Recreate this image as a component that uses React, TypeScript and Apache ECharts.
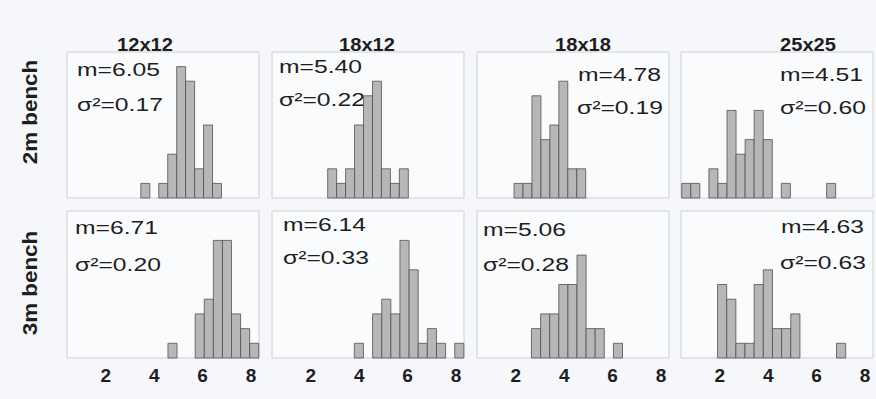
import React, { useEffect, useRef } from "react";
import * as echarts from "echarts";

// ---- data ----
const COLUMN_TITLES = ["12x12", "18x12", "18x18", "25x25"];
const ROW_TITLES = ["2m bench", "3m bench"];
const X_TICKS = [2, 4, 6, 8];

// left edge of the first bin and bin width, per row (2m, 3m) and column
const BIN_START_2M = [3.45, 2.7, 1.93, 0.43];
const BIN_START_3M = [4.57, 3.8, 2.65, 1.91];
const BIN_WIDTH_2M = [0.37, 0.37, 0.37, 0.374];
const BIN_WIDTH_3M = [0.375, 0.377, 0.376, 0.378];

const COUNTS_2M_12x12 = [1, 0, 1, 3, 9, 8, 2, 5, 1];
const COUNTS_2M_18x12 = [2, 1, 2, 5, 7, 8, 2, 1, 2];
const COUNTS_2M_18x18 = [1, 1, 7, 4, 5, 8, 2, 2];
const COUNTS_2M_25x25 = [1, 1, 0, 2, 1, 6, 3, 4, 6, 4, 0, 1, 0, 0, 0, 0, 1];
const COUNTS_3M_12x12 = [1, 0, 0, 3, 4, 8, 8, 3, 2, 1];
const COUNTS_3M_18x12 = [1, 0, 3, 4, 3, 8, 6, 1, 2, 1, 0, 1];
const COUNTS_3M_18x18 = [2, 3, 3, 5, 5, 7, 2, 2, 0, 1];
const COUNTS_3M_25x25 = [5, 4, 1, 1, 5, 6, 2, 2, 3, 0, 0, 0, 0, 1];

const MEANS_2M = ["6.05", "5.40", "4.78", "4.51"];
const MEANS_3M = ["6.71", "6.14", "5.06", "4.63"];
const VARS_2M = ["0.17", "0.22", "0.19", "0.60"];
const VARS_3M = ["0.20", "0.33", "0.28", "0.63"];

// ---- layout ----
const FONT = "Arial, 'Liberation Sans', Helvetica, sans-serif";
const COL_LEFT = [67, 272, 477, 681];
const COL_WIDTH = 192;
const ROW_TOP = [52, 211];
const ROW_HEIGHT = [146, 147];
const X_MIN = 0.4;
const X_MAX = 8.33;
const TITLE_X = [145, 367, 583, 808];
const STAT_POS = [
  [[77, 70, 77, 105], [279, 67, 279, 100], [578, 75, 577, 108], [780, 75, 780, 108]],
  [[75, 228, 75, 265], [283, 225, 283, 258], [483, 230, 483, 265], [781, 227, 780, 263]],
];

export default function App() {
  const ref = useRef<HTMLDivElement>(null);

  useEffect(() => {
    if (!ref.current) return;
    const chart = echarts.init(ref.current, undefined, { renderer: "svg" });

    const counts = [
      [COUNTS_2M_12x12, COUNTS_2M_18x12, COUNTS_2M_18x18, COUNTS_2M_25x25],
      [COUNTS_3M_12x12, COUNTS_3M_18x12, COUNTS_3M_18x18, COUNTS_3M_25x25],
    ];
    const starts = [BIN_START_2M, BIN_START_3M];
    const widths = [BIN_WIDTH_2M, BIN_WIDTH_3M];
    const means = [MEANS_2M, MEANS_3M];
    const vars = [VARS_2M, VARS_3M];

    const grids: any[] = [];
    const xAxes: any[] = [];
    const yAxes: any[] = [];
    const series: any[] = [];
    const graphics: any[] = [];

    for (let r = 0; r < 2; r++) {
      for (let c = 0; c < 4; c++) {
        const idx = r * 4 + c;
        grids.push({
          left: COL_LEFT[c],
          top: ROW_TOP[r],
          width: COL_WIDTH,
          height: ROW_HEIGHT[r],
          show: true,
          borderColor: "#cdd0d4",
          borderWidth: 1,
          backgroundColor: "#fafbfd",
        });
        xAxes.push({
          type: "value",
          gridIndex: idx,
          min: X_MIN,
          max: X_MAX,
          splitNumber: 4,
          axisLine: { show: false },
          axisTick: { show: false },
          splitLine: { show: false },
          axisLabel: {
            show: r === 1,
            margin: 8,
            fontSize: 19,
            fontWeight: "bold",
            fontFamily: FONT,
            color: "#1e1e1e",
            showMinLabel: false,
            showMaxLabel: false,
            formatter: (v: number) => (X_TICKS.indexOf(v) >= 0 ? String(v) : ""),
          },
        });
        yAxes.push({
          type: "value",
          gridIndex: idx,
          min: 0,
          max: 10,
          show: false,
          splitLine: { show: false },
        });
        const st = starts[r][c];
        const w = widths[r][c];
        const data = counts[r][c].map((n, i) => [st + i * w, st + (i + 1) * w, n]);
        series.push({
          type: "custom",
          xAxisIndex: idx,
          yAxisIndex: idx,
          data,
          encode: { x: [0, 1], y: 2 },
          clip: false,
          renderItem: (_params: any, api: any) => {
            const n = api.value(2);
            if (!n) return null;
            const p0 = api.coord([api.value(0), 0]);
            const p1 = api.coord([api.value(1), n]);
            return {
              type: "rect",
              shape: { x: p0[0], y: p1[1], width: p1[0] - p0[0], height: p0[1] - p1[1] },
              style: { fill: "#b6b7b9", stroke: "#505050", lineWidth: 0.8 },
            };
          },
        });
        const pos = STAT_POS[r][c];
        graphics.push({
          type: "text",
          x: pos[0],
          y: pos[1],
          scaleX: 1.3,
          style: {
            text: "m=" + means[r][c],
            font: `19px ${FONT}`,
            fill: "#1e1e1e",
            align: "left",
            verticalAlign: "middle",
          },
        });
        graphics.push({
          type: "text",
          x: pos[2],
          y: pos[3],
          scaleX: 1.3,
          style: {
            text: "σ²=" + vars[r][c],
            font: `19px ${FONT}`,
            fill: "#1e1e1e",
            align: "left",
            verticalAlign: "middle",
          },
        });
      }
    }

    COLUMN_TITLES.forEach((t, c) => {
      graphics.push({
        type: "text",
        x: TITLE_X[c],
        y: 44,
        scaleX: 1.06,
        style: {
          text: t,
          font: `bold 19px ${FONT}`,
          fill: "#1e1e1e",
          align: "center",
          verticalAlign: "middle",
        },
      });
    });
    const rowY = [112, 283];
    ROW_TITLES.forEach((t, r) => {
      graphics.push({
        type: "text",
        x: 30,
        y: rowY[r],
        rotation: Math.PI / 2,
        scaleX: 1.12,
        style: {
          text: t,
          font: `bold 20px ${FONT}`,
          fill: "#1e1e1e",
          align: "center",
          verticalAlign: "middle",
        },
      });
    });

    chart.setOption({
      animation: false,
      backgroundColor: "#f5f7fa",
      grid: grids,
      xAxis: xAxes,
      yAxis: yAxes,
      series,
      graphic: graphics,
    });

    return () => chart.dispose();
  }, []);

  return (
    <div
      ref={ref}
      style={{ position: "fixed", left: 0, top: 0, width: 876, height: 399 }}
    />
  );
}
